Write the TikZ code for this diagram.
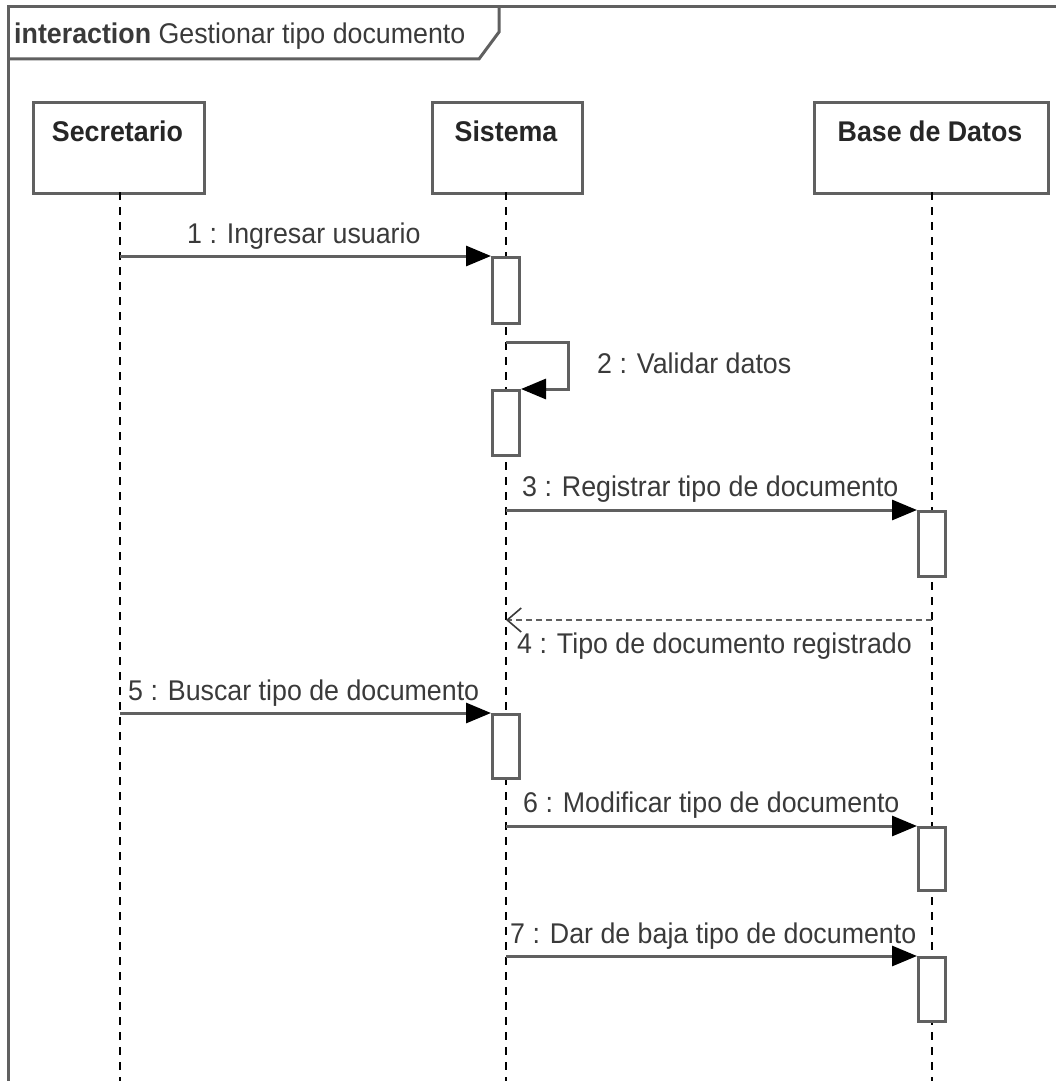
\documentclass[tikz,border=0pt]{standalone}
\usepackage{fontspec}
\setmainfont{Liberation Sans}[FakeStretch=0.94]
\usetikzlibrary{arrows.meta}

\definecolor{linegray}{HTML}{606060}
\definecolor{textgray}{HTML}{3A3A3A}
\definecolor{headtext}{HTML}{262626}

\begin{document}
\begin{tikzpicture}[x=1pt,y=-1pt,
  txt/.style={font=\fontsize{28.5}{32}\selectfont, text=textgray, inner sep=0pt},
  headbox/.style={draw=linegray, line width=3pt, fill=white, anchor=north west,
    minimum height=91pt, inner sep=0pt},
  headlabel/.style={font=\fontsize{28.5}{32}\selectfont\bfseries, text=headtext,
    inner sep=0pt, anchor=base},
  lifeline/.style={draw=black, line width=1.8pt, dash pattern=on 8pt off 7pt},
  actbox/.style={draw=linegray, line width=3pt, fill=white, anchor=north west,
    minimum width=27pt, inner sep=0pt},
  msg/.style={draw=linegray, line width=3pt,
    -{Triangle[length=25pt,width=20pt,fill=black,color=black]}},
  reply/.style={draw=linegray, line width=2.6pt, dash pattern=on 6pt off 4pt,
    -{Straight Barb[length=14pt,width=24pt,line width=1.6pt,color=textgray]}},
  framestroke/.style={draw=linegray, line width=3pt},
]
\useasboundingbox (0,0) rectangle (1056,1081);
\clip (0,0) rectangle (1056,1081);

% interaction frame and its name tab
\draw[framestroke] (8,1090) -- (8,7) -- (1070,7);
\draw[framestroke] (8,59) -- (479,59) -- (499,32) -- (499,7);
\node[txt, anchor=base west] (title) at (14,44)
  {{\bfseries interaction} Gestionar tipo documento};

% lifeline heads
\node[headbox, minimum width=171pt] (sec) at (32,101) {};
\node[headbox, minimum width=150pt] (sis) at (431,101) {};
\node[headbox, minimum width=234pt] (bas) at (813,101) {};
\node[headlabel] (secT) at (117.5,141) {Secretario};
\node[headlabel] (sisT) at (506,141) {Sistema};
\node[headlabel] (basT) at (930,141) {Base de Datos};

% lifeline anchors and dashed lines
\coordinate (secL) at (120,192);
\coordinate (sisL) at (506,192);
\coordinate (basL) at (932,192);
\coordinate (secE) at (120,1085);
\coordinate (sisE) at (506,1085);
\coordinate (basE) at (932,1085);
\draw[lifeline] (secL) -- (secE);
\draw[lifeline] (sisL) -- (sisE);
\draw[lifeline] (basL) -- (basE);

% activation bars
\node[actbox, minimum height=66pt] (a1) at (491,256) {};
\node[actbox, minimum height=65pt] (a2) at (491,389) {};
\node[actbox, minimum height=65pt] (b1) at (917,510) {};
\node[actbox, minimum height=64pt] (a3) at (491,713) {};
\node[actbox, minimum height=63pt] (b2) at (917,826) {};
\node[actbox, minimum height=64pt] (b3) at (917,956) {};

% messages
\draw[msg] (secL |- a1.north west) -- (a1.north west);
\node[txt, anchor=base west] (m1) at (187,243) {1 : Ingresar usuario};

\coordinate (selfA) at (506,342);
\coordinate (selfB) at (568,342);
\draw[msg] (selfA) -- (selfB) |- (a2.north east);
\node[txt, anchor=base west] (m2) at (597,373) {2 : Validar datos};

\draw[msg] (sisL |- b1.north west) -- (b1.north west);
\node[txt, anchor=base west] (m3) at (522,496) {3 : Registrar tipo de documento};

\coordinate (r4) at (0,620);
\draw[reply] (basL |- r4) -- (sisL |- r4);
\node[txt, anchor=base west] (m4) at (517,653) {4 : Tipo de documento registrado};

\draw[msg] (secL |- a3.north west) -- (a3.north west);
\node[txt, anchor=base west] (m5) at (128,700) {5 : Buscar tipo de documento};

\draw[msg] (sisL |- b2.north west) -- (b2.north west);
\node[txt, anchor=base west] (m6) at (523,812) {6 : Modificar tipo de documento};

\draw[msg] (sisL |- b3.north west) -- (b3.north west);
\node[txt, anchor=base west] (m7) at (510,943) {7 : Dar de baja tipo de documento};
\end{tikzpicture}
\end{document}
